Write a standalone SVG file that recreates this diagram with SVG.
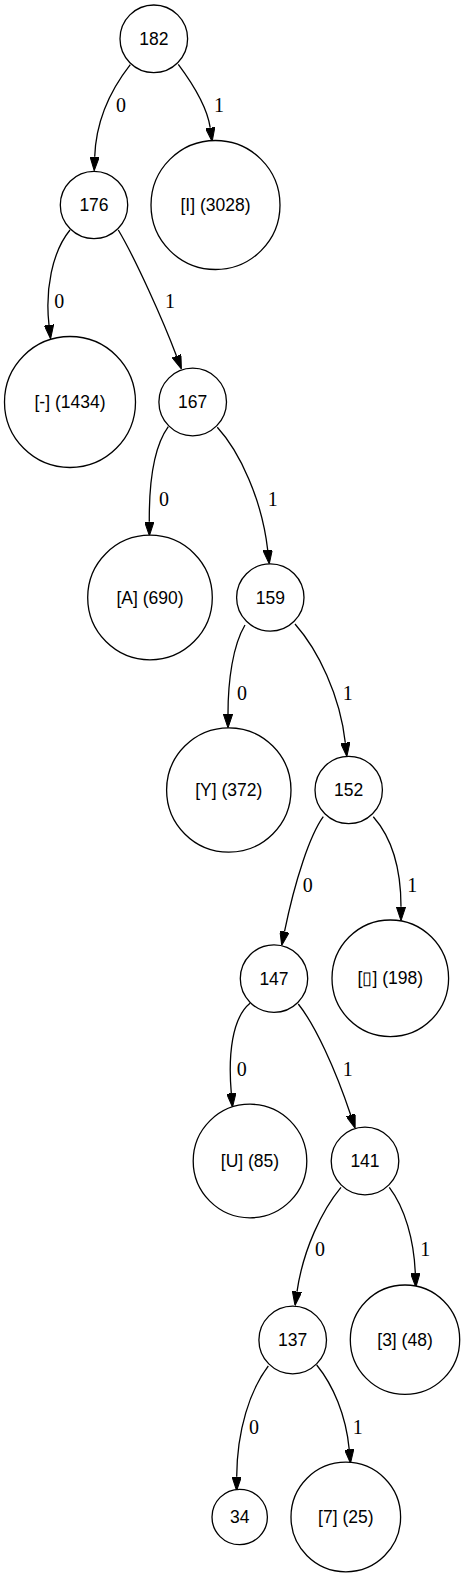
<svg xmlns="http://www.w3.org/2000/svg" width="465" height="1577" viewBox="0 0 465 1577">
<style>
.n{fill:#fff;stroke:#000;stroke-width:1.3}
.t{font-family:"Liberation Sans",Arial,sans-serif;font-size:17.5px;text-anchor:middle;fill:#000}
.e{fill:none;stroke:#000;stroke-width:1.3;marker-end:url(#ah)}
.l{font-family:"Liberation Serif","Times New Roman",serif;font-size:20px;text-anchor:middle;fill:#000}
</style>
<defs>
<marker id="ah" viewBox="0 0 14 9.4" refX="0" refY="4.7" markerWidth="14" markerHeight="9.4" markerUnits="userSpaceOnUse" orient="auto">
<polygon points="0,0 14,4.7 0,9.4" fill="#000" stroke="#000" stroke-width="1"/>
</marker>
</defs>
<rect width="465" height="1577" fill="#fff"/>
<g id="connectors">
<path class="e" d="M130.3,64.6 C112,88 96,120 94.7,156.7"/>
<path class="e" d="M178.3,64.3 C190,80 207,105 210.2,127.7"/>
<path class="e" d="M70,230 C52,252 45,290 49,325"/>
<path class="e" d="M118.3,230 C135,258 163,320 176.5,356"/>
<path class="e" d="M168.3,426.7 C155,445 149,480 149.3,521.7"/>
<path class="e" d="M217.3,427.3 C240,452 262,500 267.7,550"/>
<path class="e" d="M245,625 C233,645 228,680 228,714"/>
<path class="e" d="M295,624 C318,650 340,695 345.3,742.7"/>
<path class="e" d="M323.3,816.7 C310,835 295,880 284.5,931.7"/>
<path class="e" d="M373.3,816.7 C392,838 401,870 401,906.7"/>
<path class="e" d="M250,1003.3 C232,1018 228,1055 231.3,1093.3"/>
<path class="e" d="M298.3,1004 C315,1025 335,1068 350.7,1115"/>
<path class="e" d="M341,1187.3 C322,1210 303,1250 297,1291.7"/>
<path class="e" d="M389.3,1187.3 C405,1208 414,1240 415.3,1273.3"/>
<path class="e" d="M268.3,1366 C250,1390 237,1430 236.7,1476.7"/>
<path class="e" d="M316.7,1365 C333,1385 346,1415 349.2,1449.3"/>
<text class="l" x="121" y="112">0</text>
<text class="l" x="219" y="112">1</text>
<text class="l" x="59.3" y="307.5">0</text>
<text class="l" x="170" y="307.5">1</text>
<text class="l" x="164" y="506">0</text>
<text class="l" x="272.7" y="506">1</text>
<text class="l" x="242" y="699.5">0</text>
<text class="l" x="347.7" y="699.5">1</text>
<text class="l" x="307.7" y="892">0</text>
<text class="l" x="412.3" y="892">1</text>
<text class="l" x="241.7" y="1076">0</text>
<text class="l" x="347.7" y="1076">1</text>
<text class="l" x="320" y="1256">0</text>
<text class="l" x="425.3" y="1256">1</text>
<text class="l" x="254" y="1434">0</text>
<text class="l" x="357.7" y="1434">1</text>
</g>
<g id="n182"><circle class="n" cx="153.8" cy="38.8" r="33.8"/><text class="t" x="153.8" y="44.8">182</text></g>
<g id="nI"><circle class="n" cx="215.5" cy="205" r="64.5"/><text class="t" x="215.5" y="211">[I] (3028)</text></g>
<g id="n176"><circle class="n" cx="94" cy="205" r="33.7"/><text class="t" x="94" y="211">176</text></g>
<g id="nDash"><circle class="n" cx="70" cy="402" r="65.5"/><text class="t" x="70" y="408">[-] (1434)</text></g>
<g id="n167"><circle class="n" cx="192.7" cy="402" r="33.8"/><text class="t" x="192.7" y="408">167</text></g>
<g id="nA"><circle class="n" cx="150" cy="597.5" r="62.3"/><text class="t" x="150" y="603.5">[A] (690)</text></g>
<g id="n159"><circle class="n" cx="270.3" cy="597.5" r="33.7"/><text class="t" x="270.3" y="603.5">159</text></g>
<g id="nY"><circle class="n" cx="228.8" cy="790" r="62.2"/><text class="t" x="228.8" y="796">[Y] (372)</text></g>
<g id="n152"><circle class="n" cx="348.7" cy="790" r="33.7"/><text class="t" x="348.7" y="796">152</text></g>
<g id="n147"><circle class="n" cx="274" cy="978.6" r="33.7"/><text class="t" x="274" y="984.6">147</text></g>
<g id="nBox"><circle class="n" cx="390.3" cy="978.3" r="58.3"/><text class="t" x="390.3" y="984.3">[▯] (198)</text></g>
<g id="nU"><circle class="n" cx="250" cy="1161" r="56.8"/><text class="t" x="250" y="1167">[U] (85)</text></g>
<g id="n141"><circle class="n" cx="365" cy="1161" r="33.8"/><text class="t" x="365" y="1167">141</text></g>
<g id="n137"><circle class="n" cx="292.7" cy="1340" r="33.8"/><text class="t" x="292.7" y="1346">137</text></g>
<g id="n3"><circle class="n" cx="405" cy="1339.7" r="54.7"/><text class="t" x="405" y="1345.7">[3] (48)</text></g>
<g id="n34"><circle class="n" cx="239.7" cy="1517" r="27.7"/><text class="t" x="239.7" y="1523">34</text></g>
<g id="n7"><circle class="n" cx="345.8" cy="1517" r="54.8"/><text class="t" x="345.8" y="1523">[7] (25)</text></g>
</svg>
